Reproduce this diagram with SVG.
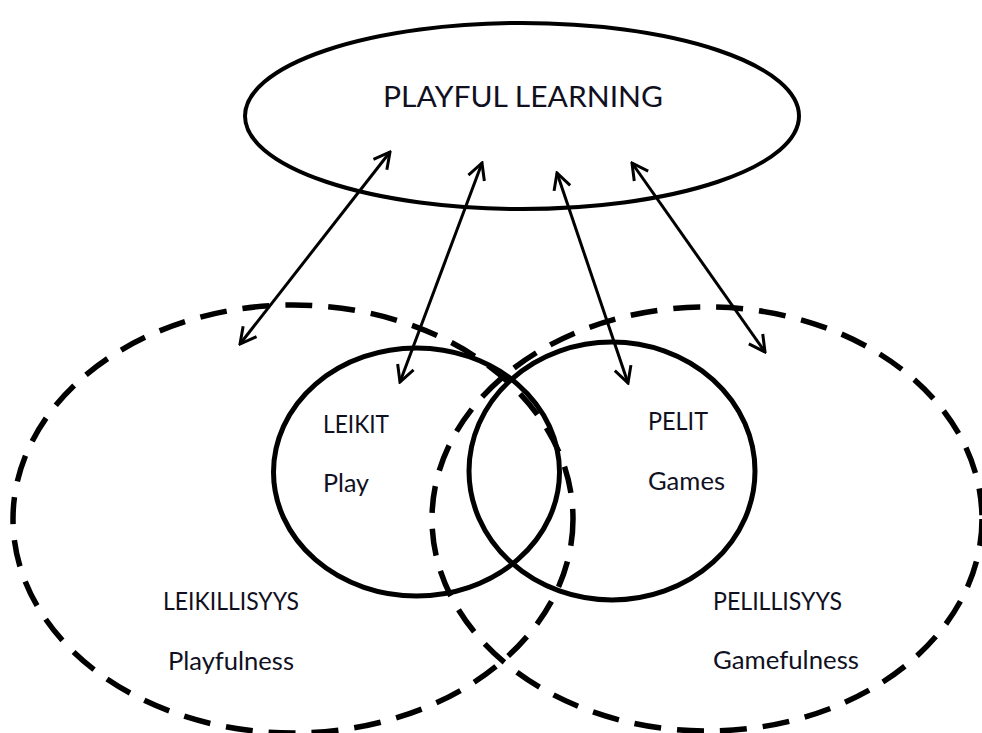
<svg xmlns="http://www.w3.org/2000/svg" width="982" height="733" viewBox="0 0 982 733">
  <style>
    .dash { fill: none; stroke: #000; stroke-width: 5.5; stroke-dasharray: 27 16; }
    .solid { fill: none; stroke: #000; stroke-width: 5; }
    .top { fill: none; stroke: #000; stroke-width: 4; }
    .link { fill: none; stroke: #000; stroke-width: 3; marker-start: url(#head); marker-end: url(#head); }
    .label { font-family: Lato, "Open Sans", "Liberation Sans", sans-serif; fill: #10101f; }
    .big { font-size: 29px; }
    .small { font-size: 25px; }
  </style>
  <defs>
    <marker id="head" viewBox="-20 -12 22 24" markerUnits="userSpaceOnUse" markerWidth="22" markerHeight="24" refX="0" refY="0" orient="auto-start-reverse">
      <path d="M -16 -8.5 L 0 0 L -16 8.5" fill="none" stroke="#000" stroke-width="3" stroke-linejoin="miter"/>
    </marker>
  </defs>
  <rect width="982" height="733" fill="#fff"/>

  <!-- outer dashed areas -->
  <g id="leikillisyys">
    <ellipse class="dash" cx="293" cy="519" rx="280" ry="214"/>
  </g>
  <g id="pelillisyys">
    <ellipse class="dash" cx="707" cy="519" rx="275" ry="212"/>
  </g>

  <!-- inner solid circles -->
  <g id="leikit">
    <ellipse class="solid" cx="416.5" cy="472" rx="143" ry="124"/>
  </g>
  <g id="pelit">
    <ellipse class="solid" cx="612" cy="471" rx="143" ry="129"/>
  </g>

  <!-- top concept -->
  <g id="playful-learning">
    <ellipse class="top" cx="522" cy="116" rx="277" ry="93"/>
    <text class="label big" x="383" y="107" textLength="280" lengthAdjust="spacingAndGlyphs">PLAYFUL LEARNING</text>
  </g>

  <!-- two-way links -->
  <g id="connectors">
    <line class="link" x1="390" y1="152" x2="240" y2="344"/>
    <line class="link" x1="482" y1="163" x2="400" y2="382"/>
    <line class="link" x1="557" y1="173" x2="628" y2="383"/>
    <line class="link" x1="632" y1="163" x2="765" y2="352"/>
  </g>

  <!-- labels -->
  <g id="labels">
    <text class="label small" x="323" y="433" textLength="66" lengthAdjust="spacingAndGlyphs">LEIKIT</text>
    <text class="label small" x="323" y="492" textLength="46" lengthAdjust="spacingAndGlyphs">Play</text>
    <text class="label small" x="648" y="430" textLength="60" lengthAdjust="spacingAndGlyphs">PELIT</text>
    <text class="label small" x="648" y="490" textLength="77" lengthAdjust="spacingAndGlyphs">Games</text>
    <text class="label small" x="163" y="610" textLength="136" lengthAdjust="spacingAndGlyphs">LEIKILLISYYS</text>
    <text class="label small" x="168" y="670" textLength="126" lengthAdjust="spacingAndGlyphs">Playfulness</text>
    <text class="label small" x="713" y="610" textLength="129" lengthAdjust="spacingAndGlyphs">PELILLISYYS</text>
    <text class="label small" x="713" y="669" textLength="146" lengthAdjust="spacingAndGlyphs">Gamefulness</text>
  </g>
</svg>
